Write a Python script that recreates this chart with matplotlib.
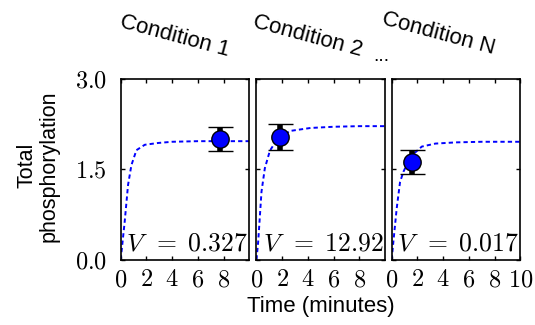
import matplotlib
matplotlib.use("Agg")
import matplotlib.pyplot as plt

plt.rcParams['font.family'] = ['Liberation Sans', 'DejaVu Sans']
plt.rcParams['mathtext.fontset'] = 'cm'

# fitted time courses, one per condition (minutes, total phosphorylation)
fit_t = [
    [0, 0.1, 0.31, 0.57, 0.83, 1.22, 1.87, 2.9, 4.0, 6.0, 8.0, 10.0],
    [0, 0.13, 0.39, 0.65, 1.04, 1.6, 2.6, 4.2, 6.0, 8.0, 10.0],
    [0, 0.13, 0.39, 0.65, 0.91, 1.5, 2.34, 3.4, 5.0, 7.0, 10.0],
]
fit_y = [
    [0, 0.2, 0.63, 1.24, 1.57, 1.82, 1.91, 1.94, 1.96, 1.97, 1.97, 1.97],
    [0, 0.29, 1.13, 1.52, 1.81, 2.0, 2.14, 2.19, 2.21, 2.22, 2.22],
    [0, 0.29, 0.85, 1.29, 1.46, 1.72, 1.88, 1.93, 1.95, 1.96, 1.96],
]
# measured points with error bars
obs_t = [7.75, 1.8, 1.55]
obs_y = [2.01, 2.04, 1.62]
obs_err = [0.2, 0.21, 0.2]
v_labels = ['0.327', '12.92', '0.017']
titles = ['Condition 1', 'Condition 2', 'Condition N']
title_pos = [(0.326, 0.888), (0.575, 0.888), (0.82, 0.896)]
x_ticks = [[0, 2, 4, 6, 8], [0, 2, 4, 6, 8], [0, 2, 4, 6, 8, 10]]
y_ticks = [0.0, 1.5, 3.0]

fig = plt.figure(figsize=(5.35, 3.25), dpi=100)
lefts = [0.2256, 0.4794, 0.7321]
for i in range(3):
    ax = fig.add_axes([lefts[i], 0.2015, 0.2407, 0.5545])
    ax.plot(fit_t[i], fit_y[i], color='#0000ff', lw=1.4, ls=(0, (2.2, 1.6)))
    ax.errorbar(obs_t[i], obs_y[i], yerr=obs_err[i], fmt='o', ms=12.5,
                mfc='#0000ff', mec='black', mew=1.0, ecolor='black',
                elinewidth=4, capsize=9, capthick=1.8, zorder=5)
    ax.text(0.985, 0.02, r'$V\ \,=\;%s$' % v_labels[i],
            transform=ax.transAxes, ha='right', va='bottom', fontsize=18.5)
    ax.set_xlim(0, 10)
    ax.set_ylim(0, 3)
    ax.set_xticks(x_ticks[i])
    ax.set_xticklabels(['$%d$' % v for v in x_ticks[i]], fontsize=17.5)
    ax.set_yticks(y_ticks)
    if i == 0:
        ax.set_yticklabels(['$%.1f$' % v for v in y_ticks], fontsize=17.5)
    else:
        ax.set_yticklabels([])
    ax.tick_params(direction='in', top=True, right=True, length=3, width=1,
                   pad=7)
    ax.tick_params(axis='y', pad=10)
    for s in ax.spines.values():
        s.set_linewidth(1.2)
    fig.text(title_pos[i][0], title_pos[i][1], titles[i], rotation=-15,
             ha='center', va='center', fontsize=16)

fig.text(0.712, 0.825, '...', ha='center', va='center', fontsize=14)
fig.text(0.071, 0.49, 'Total\nphosphorylation', rotation=90,
         ha='center', va='center', fontsize=15.5, linespacing=1.1)
fig.text(0.6, 0.04, 'Time (minutes)', ha='center', va='baseline', fontsize=16)

fig.savefig('out.png', dpi=100)
